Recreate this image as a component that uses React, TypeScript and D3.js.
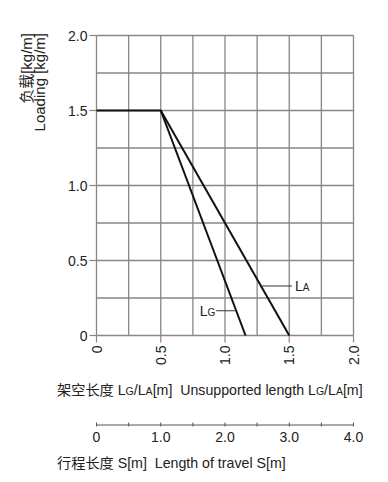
import React from "react"
import * as d3 from "d3"

// load axis (kg/m)
const loadTicks = [0, 0.5, 1.0, 1.5, 2.0]
const loadTickLabels = ["0", "0.5", "1.0", "1.5", "2.0"]
// unsupported length axis (m)
const lengthTicks = [0, 0.5, 1.0, 1.5, 2.0]
const lengthTickLabels = ["0", "0.5", "1.0", "1.5", "2.0"]
const gridValues = [0, 0.25, 0.5, 0.75, 1.0, 1.25, 1.5, 1.75, 2.0]
// travel axis (m)
const travelTicks = [0, 0.5, 1.0, 1.5, 2.0, 2.5, 3.0, 3.5, 4.0]
const travelLabelValues = [0, 1, 2, 3, 4]
const travelTickLabels = ["0", "1.0", "2.0", "3.0", "4.0"]

// curves: [length, load]
const lgCurve: [number, number][] = [[0, 1.5], [0.5, 1.5], [1.16, 0]]
const laCurve: [number, number][] = [[0.5, 1.5], [1.5, 0]]
const lgLabelLoad = 0.165
const laLabelLoad = 0.33

const FONT = "'Liberation Sans', Arial, 'Noto Sans CJK SC', sans-serif"
const GRID = "#8a8683"

export default function App() {
  const W = 388
  const H = 482
  const left = 96.5
  const right = 353.5
  const top = 35.5
  const bottom = 335.5

  const x = d3.scaleLinear().domain([0, 2]).range([left, right])
  const y = d3.scaleLinear().domain([0, 2]).range([bottom, top])
  const xt = d3.scaleLinear().domain([0, 4]).range([left, right])

  const line = d3.line<[number, number]>().x((d) => x(d[0])).y((d) => y(d[1]))

  // point on the sloped segment at a given load
  const atLoad = (curve: [number, number][], load: number) => {
    const a = curve[curve.length - 2]
    const b = curve[curve.length - 1]
    const t = (load - a[1]) / (b[1] - a[1])
    return a[0] + t * (b[0] - a[0])
  }
  const laX = x(atLoad(laCurve, laLabelLoad))
  const laY = y(laLabelLoad)
  const lgX = x(atLoad(lgCurve, lgLabelLoad))
  const lgY = y(lgLabelLoad)

  const travelY = 425

  return (
    <svg
      width={W}
      height={H}
      style={{ position: "absolute", left: 0, top: 0, background: "#fff" }}
      fontFamily={FONT}
    >
      {/* grid */}
      {gridValues.map((v) => (
        <line key={"gx" + v} x1={x(v)} x2={x(v)} y1={top} y2={bottom} stroke={GRID} strokeWidth={1.3} />
      ))}
      {gridValues.map((v) => (
        <line key={"gy" + v} x1={left} x2={right} y1={y(v)} y2={y(v)} stroke={GRID} strokeWidth={1.3} />
      ))}

      {/* y ticks */}
      {loadTicks.map((v, i) => (
        <g key={"yt" + v}>
          <line x1={left - 7} x2={left} y1={y(v)} y2={y(v)} stroke={GRID} strokeWidth={1.2} />
          <text x={left - 9} y={y(v)} dy="0.36em" textAnchor="end" fontSize={14} fill="#222">
            {loadTickLabels[i]}
          </text>
        </g>
      ))}

      {/* x ticks */}
      {lengthTicks.map((v, i) => (
        <g key={"xt" + v}>
          <line x1={x(v)} x2={x(v)} y1={bottom} y2={bottom + 7} stroke={GRID} strokeWidth={1.2} />
          <text
            transform={`translate(${x(v)},${bottom + 10}) rotate(-90)`}
            dy="0.36em"
            textAnchor="end"
            fontSize={14}
            fill="#222"
          >
            {lengthTickLabels[i]}
          </text>
        </g>
      ))}

      {/* curves */}
      <path d={line(lgCurve) ?? ""} fill="none" stroke="#111" strokeWidth={2} />
      <path d={line(laCurve) ?? ""} fill="none" stroke="#111" strokeWidth={2} />

      {/* annotations */}
      <line x1={laX} x2={laX + 31} y1={laY} y2={laY} stroke="#333" strokeWidth={1} />
      <text x={laX + 34} y={laY} dy="0.36em" fontSize={14} fill="#222">
        L<tspan fontSize={10}>A</tspan>
      </text>
      <line x1={lgX - 20} x2={lgX} y1={lgY} y2={lgY} stroke="#333" strokeWidth={1} />
      <text x={lgX - 21} y={lgY} dy="0.36em" textAnchor="end" fontSize={14} fill="#222">
        L<tspan fontSize={10}>G</tspan>
      </text>

      {/* y title */}
      <text transform={`translate(27,33) rotate(-90)`} dy="0.36em" textAnchor="end" fontSize={15} fill="#222">
        负载[kg/m]
      </text>
      <text transform={`translate(40,33) rotate(-90)`} dy="0.36em" textAnchor="end" fontSize={15} fill="#222">
        Loading [kg/m]
      </text>

      {/* x title */}
      <text x={57} y={390} dy="0.36em" fontSize={14.2} fill="#222">
        架空长度 L<tspan fontSize={10.5}>G</tspan>/L<tspan fontSize={10.5}>A</tspan>[m]{"\u00a0\u00a0"}Unsupported length L
        <tspan fontSize={10.5}>G</tspan>/L<tspan fontSize={10.5}>A</tspan>[m]
      </text>

      {/* travel axis */}
      <line x1={left} x2={right} y1={travelY} y2={travelY} stroke="#555" strokeWidth={1} />
      {travelTicks.map((v) => (
        <line key={"tt" + v} x1={xt(v)} x2={xt(v)} y1={travelY - 2.5} y2={travelY + 1.5} stroke="#555" strokeWidth={1} />
      ))}
      {travelLabelValues.map((v, i) => (
        <text key={"tl" + v} x={xt(v)} y={437} dy="0.36em" textAnchor="middle" fontSize={14} fill="#222">
          {travelTickLabels[i]}
        </text>
      ))}
      <text x={57} y={463} dy="0.36em" fontSize={14.2} fill="#222">
        行程长度 S[m]{"\u00a0\u00a0"}Length of travel S[m]
      </text>
    </svg>
  )
}
